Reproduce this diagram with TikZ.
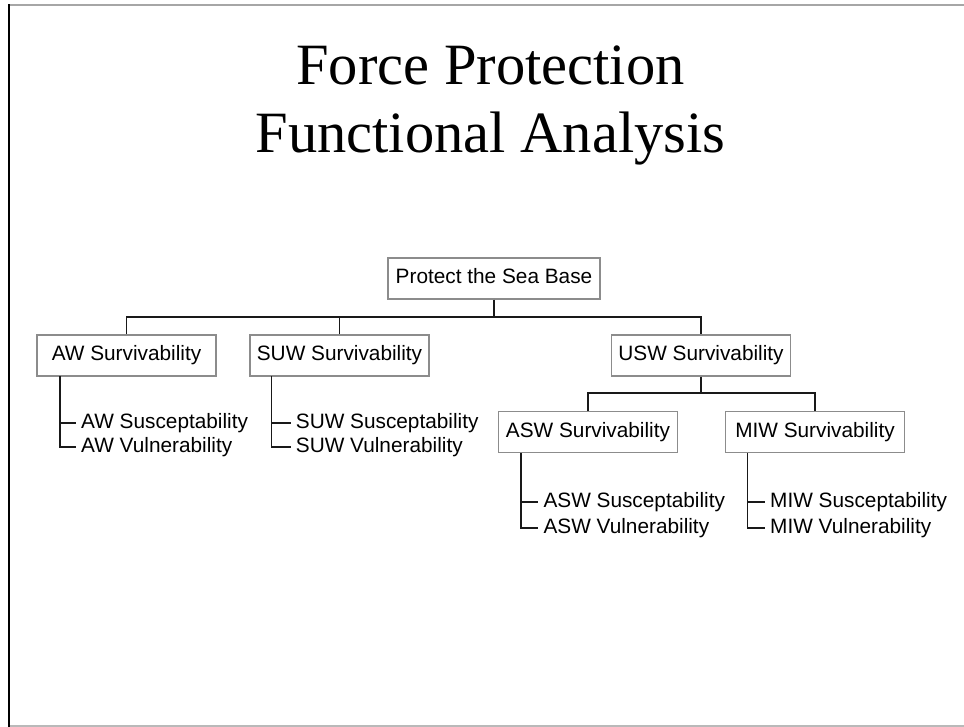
\documentclass[tikz,border=0pt]{standalone}
\usepackage{fontspec}
\setmainfont{Liberation Serif}
\setsansfont{Liberation Sans}
\begin{document}
\begin{tikzpicture}[x=1pt,y=-1pt,
  box/.style={draw=boxgray, line width=1.4pt, font=\sffamily\fontsize{20.8}{24}\selectfont,
    minimum width=179pt, minimum height=41pt, inner sep=0pt,
    text height=15pt, text depth=4.5pt},
  leaf/.style={anchor=west, font=\sffamily\fontsize{20.8}{24}\selectfont, inner xsep=5pt, inner ysep=0pt,
    text height=15pt, text depth=4.5pt},
  heading/.style={anchor=base, font=\fontsize{58.5}{65}\selectfont, inner sep=0pt},
  wire/.style={draw=black!90, line width=1.5pt}
]
\definecolor{boxgray}{gray}{0.55}
\useasboundingbox (0,0) rectangle (964,727);

% slide frame
\draw[gray!70, line width=1.6pt] (8,5) -- (964,5);
\draw[gray!55, line width=1.6pt] (9,726) -- (964,726);
\draw[black, line width=2.6pt] (9,4.5) -- (9,726.5);

% title
\node[heading] (title1) at (490.5,85) {Force Protection};
\node[heading] (title2) at (490.5,153) {Functional Analysis};

% top of the tree
\node[box, minimum width=212pt] (root) at (494,278.5) {Protect the Sea Base};
\node[box] (aw)  at (126.5,355.5) {AW Survivability};
\node[box] (suw) at (339.5,355.5) {SUW Survivability};
\node[box] (usw) at (701,355.5) {USW Survivability};
\node[box] (asw) at (588,432) {ASW Survivability};
\node[box] (miw) at (815,432) {MIW Survivability};

\coordinate (bus1) at (494,317);
\coordinate (bus2) at (701,393);

\draw[wire] (root.south) -- (bus1);
\draw[wire] (aw.north) |- (bus1) -| (usw.north);
\draw[wire] (suw.north) -- (suw.north |- bus1);
\draw[wire] (usw.south) -- (bus2);
\draw[wire] (asw.north) |- (bus2) -| (miw.north);

% leaf lists
\node[leaf] (aws) at (76,423) {AW Susceptability};
\node[leaf] (awv) at (76,447) {AW Vulnerability};
\node[leaf] (suws) at (290.7,423) {SUW Susceptability};
\node[leaf] (suwv) at (290.7,447) {SUW Vulnerability};
\node[leaf] (asws) at (538.3,502) {ASW Susceptability};
\node[leaf] (aswv) at (538.3,528) {ASW Vulnerability};
\node[leaf] (miws) at (765,502) {MIW Susceptability};
\node[leaf] (miwv) at (765,528) {MIW Vulnerability};

\coordinate (awx) at (60,376);
\coordinate (suwx) at (271.7,376);
\coordinate (aswx) at (521,453);
\coordinate (miwx) at (747.7,453);

\draw[wire] (awx) |- (awv.west);
\draw[wire] (awx |- aws.west) -- (aws.west);
\draw[wire] (suwx) |- (suwv.west);
\draw[wire] (suwx |- suws.west) -- (suws.west);
\draw[wire] (aswx) |- (aswv.west);
\draw[wire] (aswx |- asws.west) -- (asws.west);
\draw[wire] (miwx) |- (miwv.west);
\draw[wire] (miwx |- miws.west) -- (miws.west);
\end{tikzpicture}
\end{document}
